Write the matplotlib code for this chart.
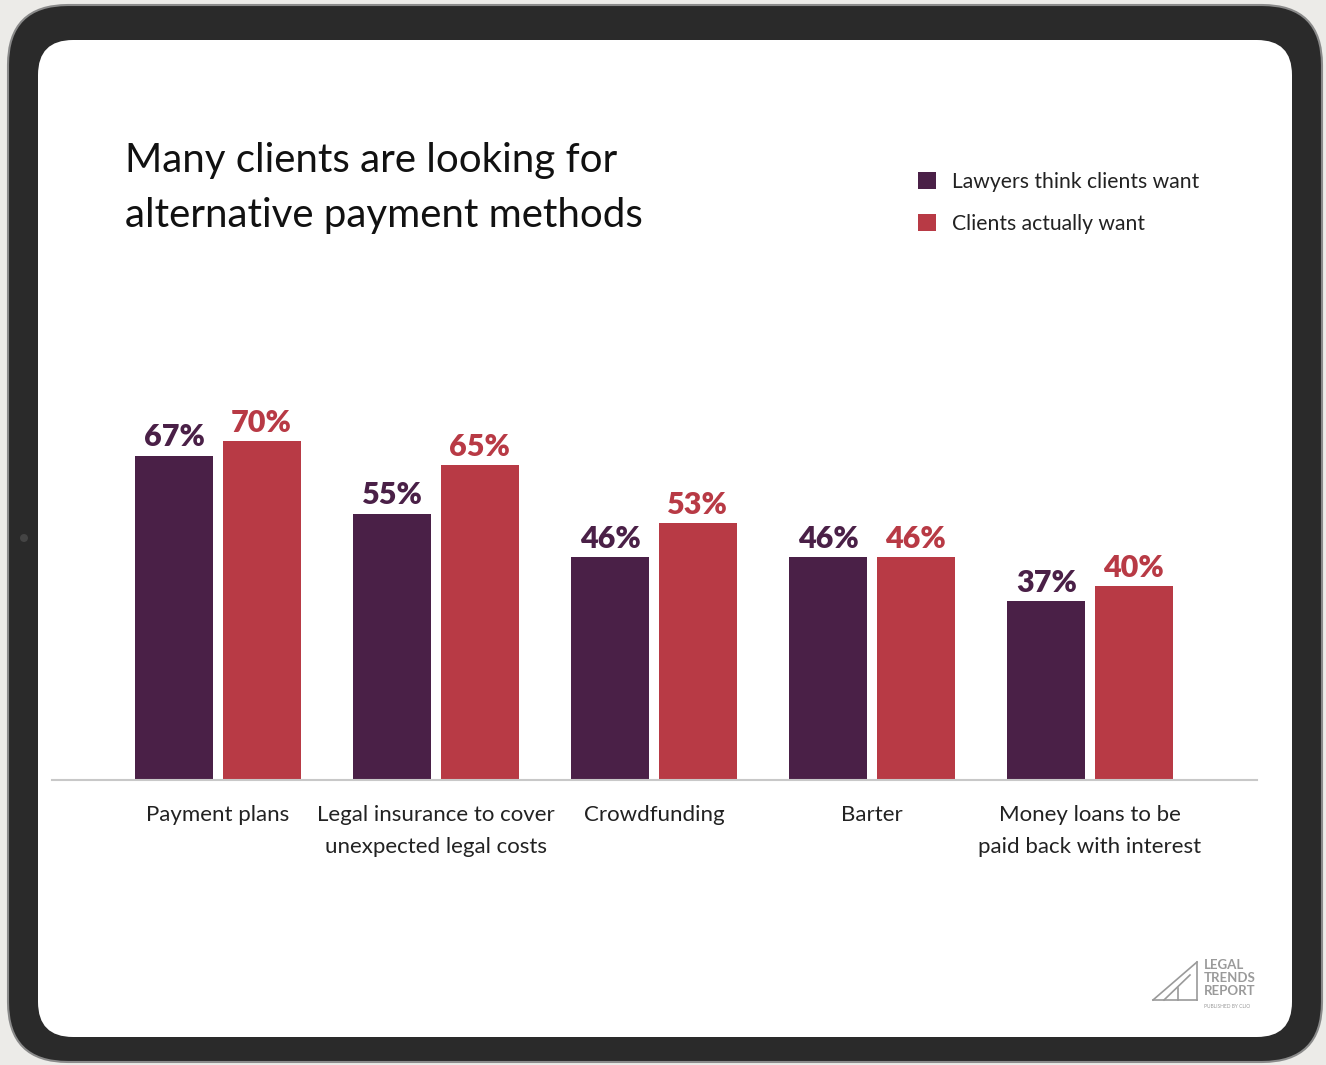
import matplotlib.pyplot as plt
import numpy as np
from matplotlib.patches import FancyBboxPatch, Circle
from matplotlib.lines import Line2D

# data
categories = ["Payment plans", "Legal insurance to cover\nunexpected legal costs",
              "Crowdfunding", "Barter", "Money loans to be\npaid back with interest"]
lawyers = [67, 55, 46, 46, 37]
clients = [70, 65, 53, 46, 40]
series_names = ["Lawyers think clients want", "Clients actually want"]

PURPLE = "#4a2047"
RED = "#b83a45"
FRAME = "#2a2a2a"

plt.rcParams['font.family'] = ['Lato', 'DejaVu Sans']

W, H = 1326, 1065
fig = plt.figure(figsize=(W / 100, H / 100), dpi=100)
fig.patch.set_facecolor("#ecebe8")


def px(x, y):
    """ pixel (from top-left) -> inches for dpi_scale_trans """
    return x / 100, (H - y) / 100


# tablet frame
x0, y0 = px(8, 1062)
frame = FancyBboxPatch((x0 + 0.45, y0 + 0.45), (1314 - 90) / 100, (1057 - 90) / 100,
                       boxstyle="round,pad=0.45,rounding_size=0.6",
                       transform=fig.dpi_scale_trans, fc=FRAME, ec="#8a8a8a", lw=1.5, zorder=0)
fig.add_artist(frame)
x1, y1 = px(38, 1037)
screen = FancyBboxPatch((x1 + 0.3, y1 + 0.3), (1254 - 60) / 100, (997 - 60) / 100,
                        boxstyle="round,pad=0.3,rounding_size=0.35",
                        transform=fig.dpi_scale_trans, fc="white", ec="none", zorder=1)
fig.add_artist(screen)
fig.add_artist(Circle(px(24, 538), 0.04, transform=fig.dpi_scale_trans,
                      fc="#444444", ec="none", zorder=2))

# axes placed in pixel space: baseline y=780, x 52..1257
ax = fig.add_axes([52 / W, (H - 780) / H, 1205 / W, 484 / H])
ax.set_facecolor("none")
ax.set_zorder(3)

x = np.arange(len(categories))
bw = 0.358
off = 0.2
ax.bar(x - off, lawyers, bw, color=PURPLE, label=series_names[0])
ax.bar(x + off, clients, bw, color=RED, label=series_names[1])

for xi, v in zip(x, lawyers):
    ax.text(xi - off, v + 0.9, f"{v}%", ha="center", va="bottom",
            fontsize=22, fontweight="heavy", color=PURPLE)
for xi, v in zip(x, clients):
    ax.text(xi + off, v + 0.9, f"{v}%", ha="center", va="bottom",
            fontsize=22, fontweight="heavy", color=RED)

ax.set_xlim((52 - 218) / 218, (1257 - 218) / 218)
ax.set_ylim(0, 100)
ax.set_xticks(x)
ax.set_xticklabels(categories, fontsize=16, color="#222222", linespacing=1.75)
ax.tick_params(axis="x", length=0, pad=18)
ax.set_yticks([])
for s in ["top", "right", "left"]:
    ax.spines[s].set_visible(False)
ax.spines["bottom"].set_color("#c8c8c8")
ax.spines["bottom"].set_linewidth(1.5)

# title
fig.text(125 / W, 1 - 142 / H, "Many clients are looking for\nalternative payment methods",
         ha="left", va="top", fontsize=29, color="#111111", linespacing=1.6, zorder=4)

# legend
leg = ax.legend(loc="upper left", bbox_to_anchor=(899 / W, 1 - 153 / H),
                bbox_transform=fig.transFigure, frameon=False, fontsize=15.2,
                handlelength=0.85, handleheight=0.85, handletextpad=0.75,
                labelspacing=1.05, labelcolor="#222222")

# logo
lg = "#9a9a9a"
for xs, ys in [([1153, 1197], [1000, 962]), ([1153, 1197], [1000, 1000]),
               ([1197, 1197], [962, 1000]), ([1164, 1190], [1000, 975]),
               ([1178, 1178], [988, 1000])]:
    fig.add_artist(Line2D([v / W for v in xs], [1 - v / H for v in ys],
                          color=lg, lw=1.2, zorder=4))
fig.text(1204 / W, 1 - 959 / H, "LEGAL\nTRENDS\nREPORT", ha="left", va="top",
         fontsize=9.5, fontweight="bold", color=lg, linespacing=1.1, zorder=4)
fig.text(1204 / W, 1 - 1004 / H, "PUBLISHED BY CLIO", ha="left", va="top",
         fontsize=3.5, color=lg, zorder=4)

fig.savefig("out.png", dpi=100)
